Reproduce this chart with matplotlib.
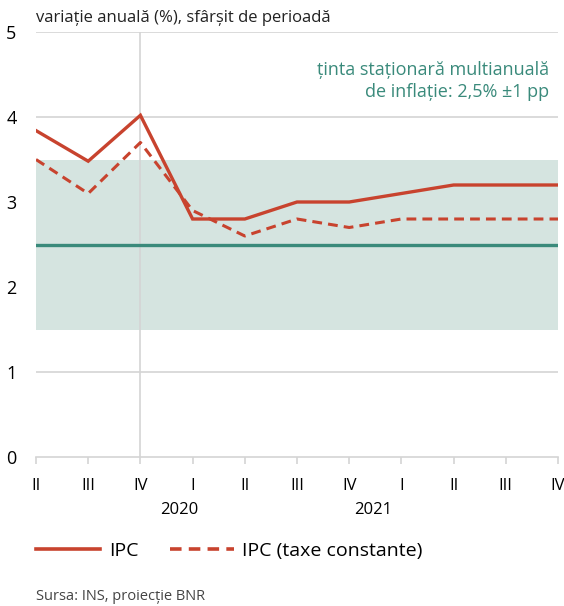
import numpy as np
import matplotlib
matplotlib.use("Agg")
import matplotlib.pyplot as plt
from matplotlib.lines import Line2D

plt.rcParams['font.family'] = ['Open Sans', 'DejaVu Sans']

quarters = ["II", "III", "IV", "I", "II", "III", "IV", "I", "II", "III", "IV"]
years = ["2020", "2021"]
year_pos = [2.75, 6.45]
ipc = [3.84, 3.48, 4.02, 2.8, 2.8, 3.0, 3.0, 3.1, 3.2, 3.2, 3.2]
ipc_const = [3.5, 3.1, 3.7, 2.9, 2.6, 2.8, 2.7, 2.8, 2.8, 2.8, 2.8]
target = 2.5
band = (1.5, 3.5)

RED = "#c8432e"
TEAL = "#3a8a7b"
BAND = "#d5e4e0"
GRID = "#d4d4d4"
DASH = (0, (3.2, 2.0))

fig = plt.figure(figsize=(5.64, 6.06), dpi=100)
ax = fig.add_axes([36 / 564, 1 - 457 / 606, 522 / 564, 425 / 606])
x = np.arange(len(quarters))

ax.set_xlim(0, len(quarters) - 1)
ax.set_ylim(0, 5)
for v in [1, 2, 3, 4, 5]:
    ax.axhline(v, color=GRID, lw=1.2, zorder=0)
ax.axhspan(band[0], band[1], color=BAND, lw=0, zorder=1)
ax.axvline(2, color=GRID, lw=1.2, zorder=2)
ax.axhline(target, color=TEAL, lw=2.4, zorder=3)

ax.plot(x, ipc, color=RED, lw=2.4, zorder=5, solid_joinstyle="miter")
ax.plot(x, ipc_const, color=RED, lw=2.2, ls=DASH, zorder=4)

for s in ["top", "right", "left"]:
    ax.spines[s].set_visible(False)
ax.spines["bottom"].set_color(GRID)
ax.spines["bottom"].set_linewidth(1.2)

ax.set_yticks([0, 1, 2, 3, 4, 5])
ax.tick_params(axis="y", length=0, labelsize=13, pad=14)
ax.set_xticks(x)
ax.set_xticklabels(quarters)
ax.tick_params(axis="x", length=5, color=GRID, width=1.2, labelsize=12, pad=10)
for xp, yr in zip(year_pos, years):
    ax.text(xp, -0.62, yr, ha="center", va="center", fontsize=12, clip_on=False)

fig.text(36 / 564, 1 - 18 / 606, "variație anuală (%), sfârșit de perioadă", fontsize=12,
         va="center", ha="left", color="#222222")
fig.text(549 / 564, 1 - 81 / 606, "ținta staționară multianuală\nde inflație: 2,5% ±1 pp",
         fontsize=13, color=TEAL, ha="right", va="center", linespacing=1.35)

handles = [Line2D([], [], color=RED, lw=2.6),
           Line2D([], [], color=RED, lw=2.6, ls=DASH)]
fig.legend(handles, ["IPC", "IPC (taxe constante)"], loc="center left",
           bbox_to_anchor=(36 / 564, 1 - 551 / 606), ncol=2, frameon=False,
           borderpad=0, borderaxespad=0, fontsize=14,
           handlelength=3.3, handletextpad=0.45, columnspacing=1.6)

fig.text(36 / 564, 1 - 597 / 606, "Sursa: INS, proiecție BNR", fontsize=10.5,
         color="#444444", va="center", ha="left")

fig.savefig("out.png", dpi=100)
